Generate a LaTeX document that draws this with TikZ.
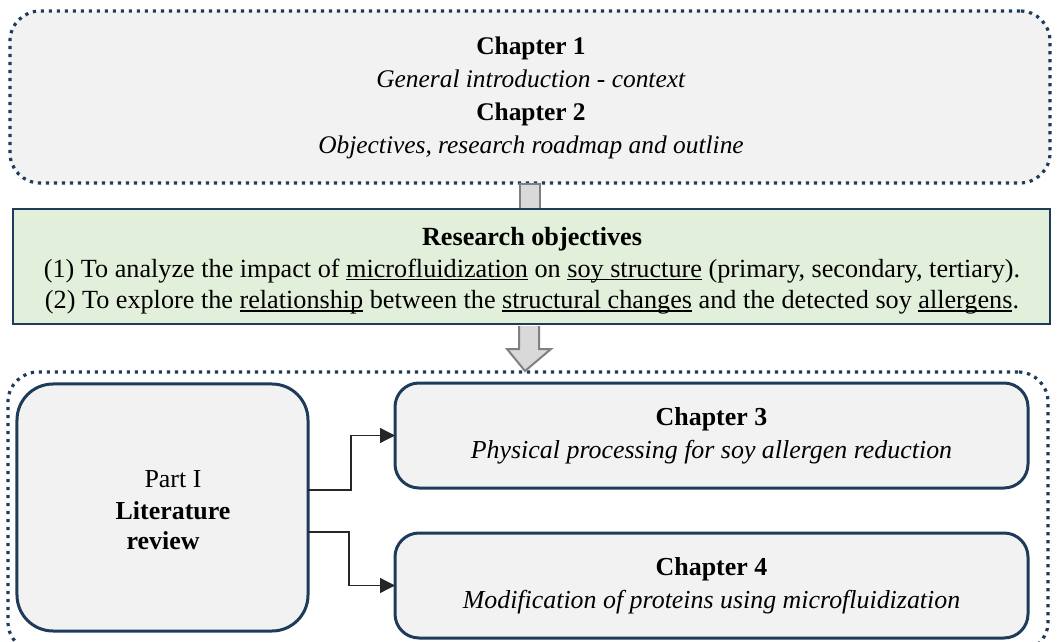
\documentclass[tikz,border=0pt]{standalone}
\usepackage{fontspec}
\setmainfont{Liberation Serif}
\usetikzlibrary{positioning,calc,arrows.meta}
\definecolor{frameblue}{HTML}{1F3B5A}
\definecolor{boxgray}{HTML}{F2F2F2}
\definecolor{objgreen}{HTML}{E2EFDA}
\definecolor{arrgray}{HTML}{D9D9D9}
\definecolor{arrline}{HTML}{808080}

% underline as drawn in the reference: heavier and close to the baseline
\newcommand{\ulword}[1]{\setbox0\hbox{#1}\rlap{\rule[-3.2bp]{\wd0}{1.6bp}}\box0\relax}

\tikzset{
  dotframe/.style={draw=frameblue, line width=3.2bp, dash pattern=on 3.2bp off 4.8bp,
    rounded corners=30bp, inner sep=0pt, outer sep=0pt},
  objbox/.style={draw=frameblue, line width=2.5bp, fill=objgreen, inner sep=0pt, outer sep=0pt},
  chapbox/.style={draw=frameblue, line width=3bp, fill=boxgray, rounded corners=24bp,
    inner sep=0pt, outer sep=0pt},
  txt/.style={align=center, font=\fontsize{26}{33}\selectfont},
  blockarr/.style={draw=arrline, line width=2bp, fill=arrgray},
  link/.style={draw=black!85, line width=1.3bp, -{Triangle[length=15bp,width=15bp]}}
}

\begin{document}
\begin{tikzpicture}[x=1bp,y=-1bp]
    \useasboundingbox (0,0) rectangle (1059,642);

    % Top frame: chapters 1 and 2
    \node[dotframe, fill=boxgray, minimum width=1040bp, minimum height=172bp] (intro) at (530,97) {};
    \node[txt, font=\fontsize{25.5}{33}\selectfont] (introtxt) at (531,98) {\textbf{Chapter 1}\\ \textit{General introduction - context}\\
      \textbf{Chapter 2}\\ \textit{Objectives, research roadmap and outline}};

    % Block arrow into the objectives (head hidden behind the box)
    \draw[blockarr] ($(intro.south)+(-10,1)$) -- ($(intro.south)+(-10,40)$) -- ($(intro.south)+(10,40)$)
      -- ($(intro.south)+(10,1)$) -- cycle;

    % Research objectives
    \node[objbox, minimum width=1037bp, minimum height=115bp] (obj) at (531.5,266.5) {};
    \node[txt, font=\fontsize{26.3}{31.5}\selectfont] (objtxt) at (532,271) {\textbf{Research objectives}\\
      (1) To analyze the impact of \ulword{microfluidization} on \ulword{soy structure} (primary, secondary, tertiary).\\
      (2) To explore the \ulword{relationship} between the \ulword{structural changes} and the detected soy \ulword{allergens}.};

    % Bottom frame
    \node[dotframe, minimum width=1040bp, minimum height=280bp] (part) at (528,512) {};

    % Block arrow down to part I
    \draw[blockarr] ($(obj.south)+(-12.5,2)$) -- ($(obj.south)+(-12.5,25)$) -- ($(obj.south)+(-24.5,25)$)
      -- ($(part.north)+(-3,-1)$) -- ($(obj.south)+(19.5,25)$) -- ($(obj.south)+(7.5,25)$)
      -- ($(obj.south)+(7.5,2)$);

    % Part I and its chapters
    \node[chapbox, rounded corners=36bp, minimum width=291bp, minimum height=247bp] (lit) at (162.5,507.5) {};
    \node[txt] (lit1) at (173,479) {Part I};
    \node[txt] (lit2) at (173,511) {\textbf{Literature}};
    \node[txt] (lit3) at (163,541) {\textbf{review}};

    \node[chapbox, minimum width=633bp, minimum height=105bp] (ch3) at (711.5,435.5) {};
    \node[txt] (ch3txt) at (711.5,436) {\textbf{Chapter 3}\\ \textit{Physical processing for soy allergen reduction}};

    \node[chapbox, minimum width=633bp, minimum height=105bp] (ch4) at (711.5,585.5) {};
    \node[txt] (ch4txt) at (711.5,586) {\textbf{Chapter 4}\\ \textit{Modification of proteins using microfluidization}};

    % Connectors
    \draw[link] ([yshift=17.5bp]lit.east) -- ++(43,0) |- (ch3.west);
    \draw[link] ([yshift=-24.5bp]lit.east) -- ++(41,0) |- (ch4.west);
\end{tikzpicture}
\end{document}
